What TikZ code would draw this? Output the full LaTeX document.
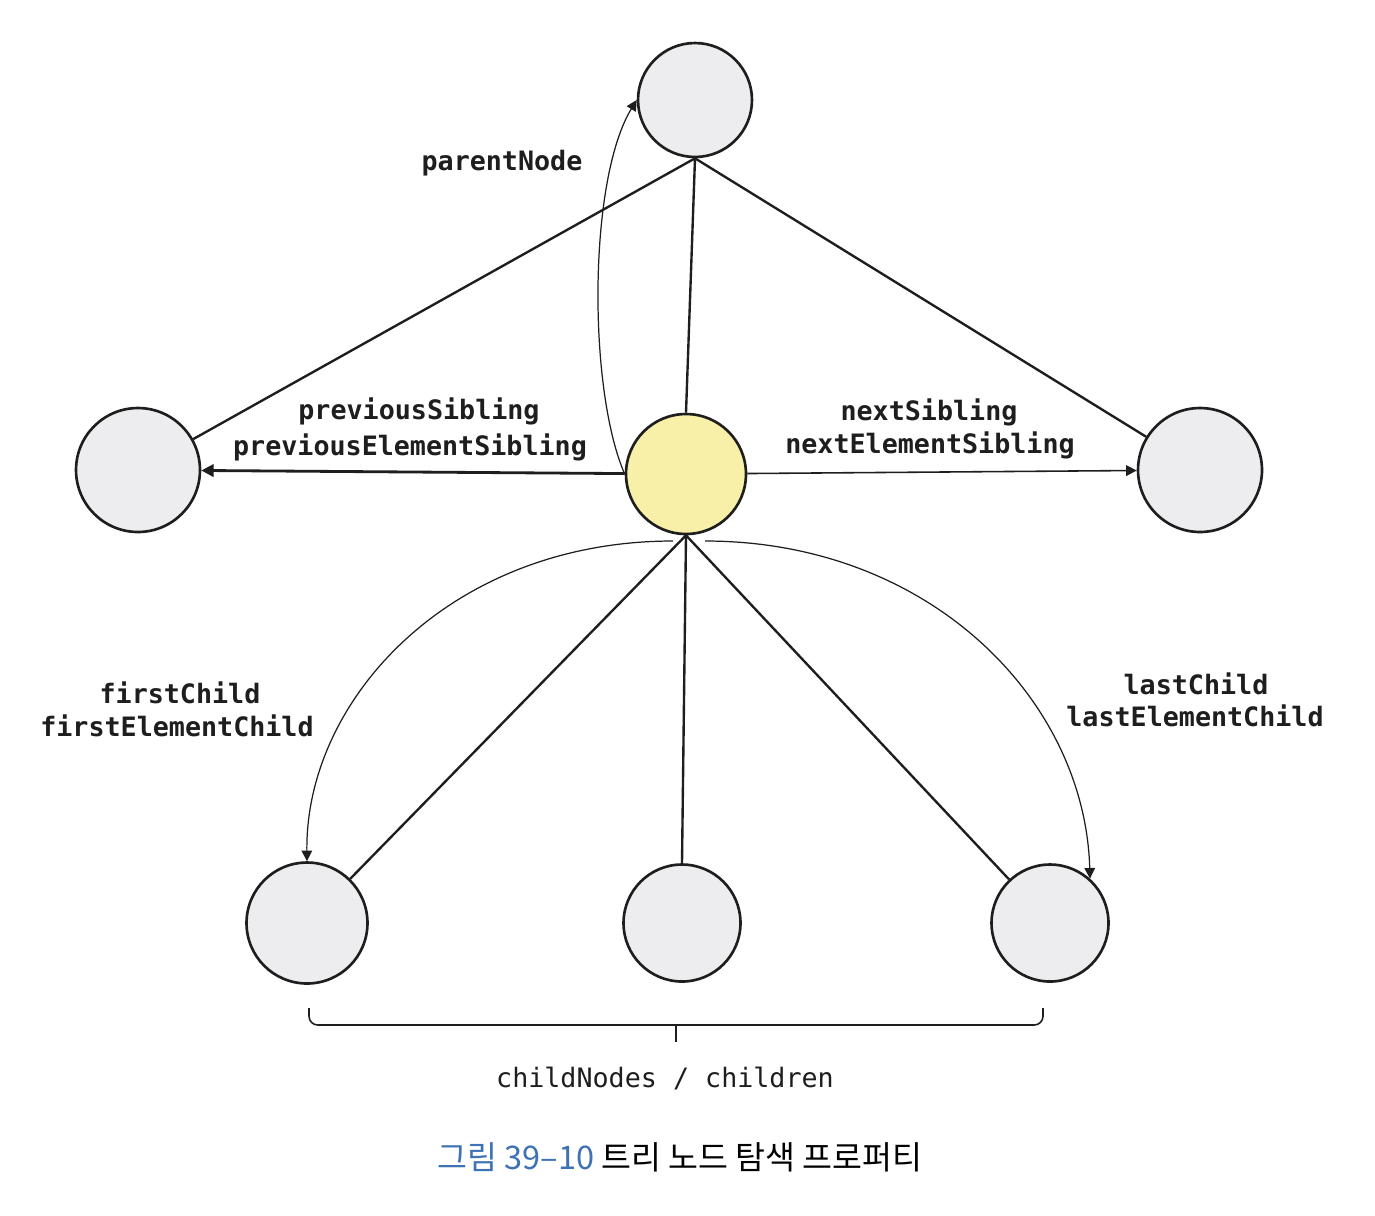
\documentclass[tikz,border=0pt]{standalone}
\usepackage{fontspec}
\setmonofont{DejaVu Sans Mono}
\newfontfamily\krfont{Noto Sans CJK KR}
\usetikzlibrary{arrows.meta}
\definecolor{nodegray}{HTML}{EDECEF}
\definecolor{nodeyellow}{HTML}{F8EFA8}
\definecolor{capblue}{HTML}{3F72B5}
\definecolor{ink}{HTML}{1E1E1E}
\begin{document}
\begin{tikzpicture}[x=0.02cm,y=-0.02cm,
  circ/.style={circle, draw=ink, line width=1.5pt, fill=nodegray, inner sep=0pt},
  edge/.style={draw=ink, line width=1.35pt},
  thinline/.style={draw=ink, line width=0.7pt},
  lbl/.style={font=\fontsize{15.2pt}{18pt}\selectfont\ttfamily\bfseries, text=ink, inner sep=0pt},
  tip/.style={-{Triangle[length=6pt,width=6pt]}}]
\useasboundingbox[fill=white] (0,0) rectangle (1375,1215);
% nodes
\node[circ, minimum size=2.28cm] (p) at (695,100) {};
\node[circ, minimum size=2.48cm] (l) at (138,470) {};
\node[circ, minimum size=2.40cm, fill=nodeyellow] (c) at (686,474) {};
\node[circ, minimum size=2.48cm] (r) at (1200,470) {};
\node[circ, minimum size=2.42cm] (bl) at (307,923) {};
\node[circ, minimum size=2.34cm] (bm) at (682,923) {};
\node[circ, minimum size=2.34cm] (br) at (1050,923) {};
% parent edges
\draw[edge] (p.south) -- (l);
\draw[edge] (p.south) -- (c.north);
\draw[edge] (p.south) -- (r);
% parentNode curve
\draw[thinline, tip] (c.west) .. controls (588,390) and (588,180) .. (p.west);
% siblings
\draw[edge, line width=1.6pt, -{Triangle[length=7pt,width=7pt]}] (c) -- (l);
\draw[thinline, line width=0.9pt, tip] (c) -- (r);
% children edges
\draw[edge] (c.south) -- (bl);
\draw[edge] (c.south) -- (bm.north);
\draw[edge] (c.south) -- (br);
% first / last child arcs
\coordinate (al) at (673,541);
\coordinate (ar) at (705,541);
\draw[thinline, tip] (al) .. controls (450,541) and (305,700) .. (bl.north);
\draw[thinline, tip] (ar) .. controls (930,541) and (1085,700) .. (br.48);
% labels
\node[lbl] (t1) at (502,163) {parentNode};
\node[lbl] (t2) at (419,411) {previousSibling};
\node[lbl] (t3) at (410,447) {previousElementSibling};
\node[lbl] (t4) at (929,412) {nextSibling};
\node[lbl] (t5) at (930,445) {nextElementSibling};
\node[lbl] (t6) at (180,693) {firstChild};
\node[lbl] (t7) at (177,726) {firstElementChild};
\node[lbl] (t8) at (1196,684) {lastChild};
\node[lbl] (t9) at (1195,716) {lastElementChild};
% brace
\coordinate (b1) at (309,1008);
\coordinate (b2) at (1043,1008);
\coordinate (bc) at (676,1025);
\draw[ink, line width=0.9pt, rounded corners=5pt] (b1) -- (309,1025) -- (1043,1025) -- (b2);
\draw[ink, line width=0.9pt] (bc) -- (676,1042);
\node[lbl, font=\fontsize{15.2pt}{18pt}\selectfont\ttfamily] (t10) at (665,1078) {childNodes / children};
% caption
\node[font=\krfont\fontsize{18.5pt}{22pt}\selectfont, inner sep=0pt] (cap) at (680,1157) {\textcolor{capblue}{그림 39–10} 트리 노드 탐색 프로퍼티};
\end{tikzpicture}
\end{document}
